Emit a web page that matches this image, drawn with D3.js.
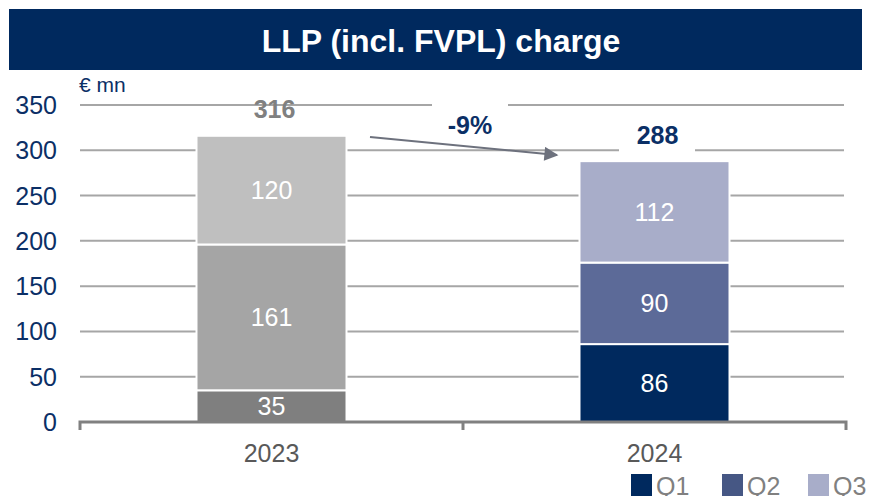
<!DOCTYPE html>
<html>
<head>
<meta charset="utf-8">
<script src="https://cdn.jsdelivr.net/npm/d3@7"></script>
<style>
  body { margin: 0; background: #fff; }
  svg { display: block; font-family: "Liberation Sans", Arial, sans-serif; }
</style>
</head>
<body>
<div id="chart"></div>
<script>
// data
var years = ["2023", "2024"];
var quarters = ["Q1", "Q2", "Q3"];
var q1 = [35, 86];
var q2 = [161, 90];
var q3 = [120, 112];
var totals = [316, 288];
var yTicks = [0, 50, 100, 150, 200, 250, 300, 350];
var changeLabel = "-9%";

var width = 873, height = 496;
var plotLeft = 80, plotRight = 846, plotTop = 105, plotBottom = 422;

var svg = d3.select("#chart").append("svg").attr("width", width).attr("height", height);

// title bar
svg.append("rect").attr("x", 9).attr("y", 9).attr("width", 853).attr("height", 61).attr("fill", "#00295e");
svg.append("text").attr("x", 441).attr("y", 52).attr("text-anchor", "middle")
  .attr("fill", "#fff").style("font-size", "32px").style("font-weight", "bold")
  .text("LLP (incl. FVPL) charge");

svg.append("text").attr("x", 79).attr("y", 92).attr("fill", "#0b2f66").style("font-size", "21px").text("€ mn");

var x = d3.scaleBand().domain(years).range([plotLeft, plotRight]).paddingInner(0).paddingOuter(0);
var y = d3.scaleLinear().domain([0, 350]).range([plotBottom, plotTop]);
var barW = 150;

// grid lines
svg.selectAll(".grid").data(yTicks.filter(function(d) { return d > 0; })).enter().append("line")
  .attr("x1", plotLeft).attr("x2", plotRight - 2)
  .attr("y1", function(d) { return y(d); }).attr("y2", function(d) { return y(d); })
  .attr("stroke", "#a6a6a6").attr("stroke-width", 2);

// y labels
svg.selectAll(".ylab").data(yTicks).enter().append("text")
  .attr("x", 57).attr("y", function(d) { return y(d) + 9; })
  .attr("text-anchor", "end").attr("fill", "#0b2f66").style("font-size", "25px")
  .text(function(d) { return d; });

// stacked data
var rows = years.map(function(yr, i) { return { year: yr, Q1: q1[i], Q2: q2[i], Q3: q3[i] }; });
var stack = d3.stack().keys(quarters)(rows);
var colors = {
  "2023": ["#7f7f7f", "#a5a5a5", "#bfbfbf"],
  "2024": ["#00295e", "#5c6a98", "#a8adc9"]
};

stack.forEach(function(layer, li) {
  layer.forEach(function(d, i) {
    var cx = x(years[i]) + x.bandwidth() / 2;
    svg.append("rect")
      .attr("x", cx - barW / 2).attr("width", barW)
      .attr("y", y(d[1])).attr("height", y(d[0]) - y(d[1]))
      .attr("fill", colors[years[i]][li]).attr("stroke", "#fff").attr("stroke-width", 2);
    svg.append("text")
      .attr("x", cx).attr("y", (y(d[0]) + y(d[1])) / 2 + 9)
      .attr("text-anchor", "middle").attr("fill", "#fff").style("font-size", "25px")
      .text(d[1] - d[0]);
  });
});

// x axis
svg.append("path")
  .attr("d", "M" + plotLeft + "," + (plotBottom + 8) + "V" + plotBottom + "H" + plotRight + "V" + (plotBottom + 8))
  .attr("fill", "none").attr("stroke", "#808080").attr("stroke-width", 3);
svg.append("line").attr("x1", x("2024")).attr("x2", x("2024")).attr("y1", plotBottom).attr("y2", plotBottom + 8)
  .attr("stroke", "#808080").attr("stroke-width", 3);
svg.selectAll(".xlab").data(years).enter().append("text")
  .attr("x", function(d) { return x(d) + x.bandwidth() / 2; }).attr("y", 462)
  .attr("text-anchor", "middle").attr("fill", "#595959").style("font-size", "25px")
  .text(function(d) { return d; });

// totals
var c0 = x("2023") + x.bandwidth() / 2, c1 = x("2024") + x.bandwidth() / 2;
svg.append("text").attr("x", c0 + 3).attr("y", y(totals[0]) - 18).attr("text-anchor", "middle")
  .attr("fill", "#808080").style("font-size", "25px").style("font-weight", "bold").text(totals[0]);
svg.append("rect").attr("x", 619).attr("y", 118).attr("width", 76).attr("height", 34).attr("fill", "#fff");
svg.append("text").attr("x", c1 + 3).attr("y", y(totals[1]) - 17).attr("text-anchor", "middle")
  .attr("fill", "#0b2f66").style("font-size", "25px").style("font-weight", "bold").text(totals[1]);

// change arrow
svg.append("rect").attr("x", 432).attr("y", 103).attr("width", 76).attr("height", 30).attr("fill", "#fff");
svg.append("text").attr("x", 470).attr("y", 134).attr("text-anchor", "middle")
  .attr("fill", "#0b2f66").style("font-size", "25px").style("font-weight", "bold").text(changeLabel);
svg.append("defs").append("marker").attr("id", "arr").attr("viewBox", "0 0 10 10")
  .attr("refX", 9).attr("refY", 5).attr("orient", "auto")
  .attr("markerUnits", "userSpaceOnUse").attr("markerWidth", 18).attr("markerHeight", 14)
  .append("path").attr("d", "M0,0L10,5L0,10z").attr("fill", "#6d717d");
svg.append("line").attr("x1", 370).attr("y1", 137).attr("x2", 557).attr("y2", 155)
  .attr("stroke", "#6d717d").attr("stroke-width", 2).attr("marker-end", "url(#arr)");

// legend
var legColors = ["#00295e", "#465784", "#a8adc9"];
var legX = [631, 722, 808];
quarters.forEach(function(q, i) {
  svg.append("rect").attr("x", legX[i]).attr("y", 474).attr("width", 21).attr("height", 22).attr("fill", legColors[i]);
  svg.append("text").attr("x", legX[i] + 25).attr("y", 495).attr("fill", "#808080").style("font-size", "25px").text(q);
});
</script>
</body>
</html>
